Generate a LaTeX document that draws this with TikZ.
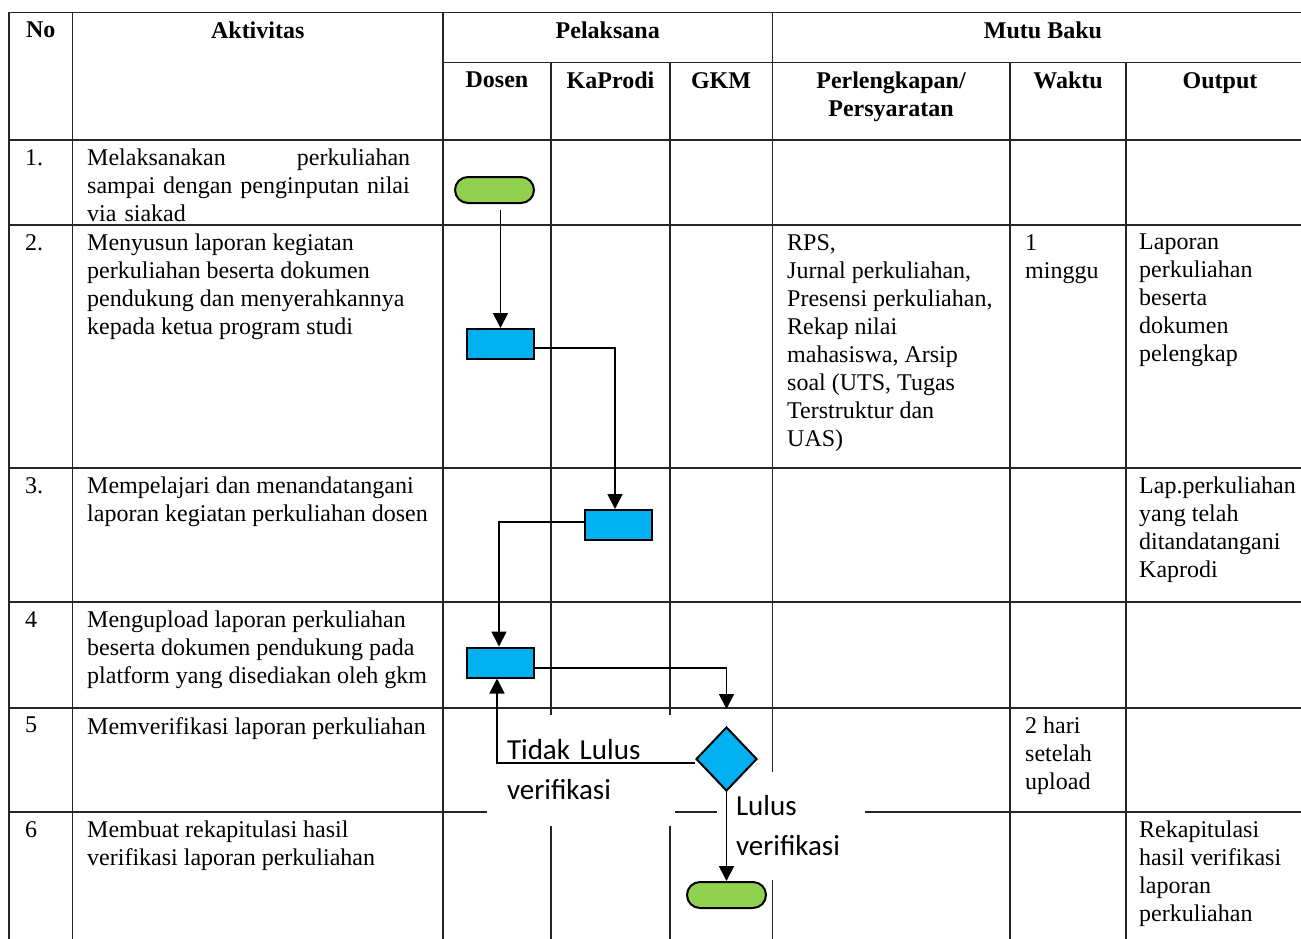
\documentclass[tikz,border=0pt]{standalone}
\usepackage{fontspec}
\setmainfont{Liberation Serif}
\newfontfamily\calibri{Carlito}
\usepackage{tikz}
\usetikzlibrary{arrows.meta, shapes.geometric, positioning}
\definecolor{flowgreen}{HTML}{92D050}
\definecolor{flowblue}{HTML}{00B0F0}
\tikzset{
  >={Triangle[length=15pt,width=15pt]},  % ujung panah segitiga
  % Garis tabel
  tableline/.style={line width=1.6pt,black!85,line cap=rect},
  % Teks sel tabel
  cell/.style={anchor=north west,inner sep=0pt,align=left,font=\fontsize{24}{28}\selectfont},
  head/.style={anchor=north,inner sep=0pt,align=center,font=\bfseries\fontsize{24}{28}\selectfont},
  % Simbol flowchart
  terminal/.style={draw,line width=2pt,fill=flowgreen,rounded corners=13pt,minimum width=79pt,minimum height=26pt,inner sep=0pt},
  process/.style={draw,line width=2pt,fill=flowblue,minimum width=67pt,minimum height=30pt,inner sep=0pt},
  decision/.style={draw,line width=2pt,fill=flowblue,diamond,minimum width=61pt,minimum height=64pt,inner sep=0pt},
  flow/.style={->,line width=1.8pt},
  % Label keputusan (kotak teks putih)
  lbl/.style={fill=white,inner ysep=0pt,align=left,font=\calibri\fontsize{29}{40}\selectfont}
}
\begin{document}
\begin{tikzpicture}[x=1pt,y=-1pt]
        \useasboundingbox (0,0) rectangle (1301,938);
        % Garis horizontal
        \draw[tableline](9,12.5)--(1301,12.5);
        \draw[tableline](443,62.5)--(1301,62.5);
        \foreach \y in {140,225,468,602,708,812}
          \draw[tableline](9,\y)--(1301,\y);
        % Garis vertikal
        \foreach \x in {9,72.5,443,772.5}
          \draw[tableline](\x,12.5)--(\x,938);
        \foreach \x in {551,670,1010,1126}
          \draw[tableline](\x,62.5)--(\x,938);
        % Kepala tabel
        \node[head] (hno) at (40.75,22) {No};
        \node[head] (hakt) at (257.75,22) {Aktivitas};
        \node[head] (hpel) at (607.75,22) {Pelaksana};
        \node[head] (hmutu) at (1043,22) {Mutu Baku};
        \node[head] (hdosen) at (497,72) {Dosen};
        \node[head] (hkaprodi) at (610.5,72) {KaProdi};
        \node[head] (hgkm) at (721,72) {GKM};
        \node[head] (hperl) at (891,72) {Perlengkapan/\\Persyaratan};
        \node[head] (hwaktu) at (1068,72) {Waktu};
        \node[head] (houtput) at (1220,72) {Output};
        % Baris 1
        \node[cell] (n1) at (25,149) {1.};
        \node[cell,text width=323pt] (a1) at (87,149)
          {Melaksanakan\hfill perkuliahan\\sampai dengan penginputan nilai\\via siakad};
        % Baris 2
        \node[cell] (n2) at (25,234) {2.};
        \node[cell] (a2) at (87,234)
          {Menyusun laporan kegiatan\\perkuliahan beserta dokumen\\pendukung dan menyerahkannya\\kepada ketua program studi};
        \node[cell] (p2) at (787,234)
          {RPS,\\Jurnal perkuliahan,\\Presensi perkuliahan,\\Rekap nilai\\mahasiswa, Arsip\\soal (UTS, Tugas\\Terstruktur dan\\UAS)};
        \node[cell] (w2) at (1025,234) {1\\minggu};
        \node[cell] (o2) at (1139,234) {Laporan\\perkuliahan\\beserta\\dokumen\\pelengkap};
        % Baris 3
        \node[cell] (n3) at (25,477) {3.};
        \node[cell] (a3) at (87,477)
          {Mempelajari dan menandatangani\\laporan kegiatan perkuliahan dosen};
        \node[cell] (o3) at (1139,477) {Lap.perkuliahan\\yang telah\\ditandatangani\\Kaprodi};
        % Baris 4
        \node[cell] (n4) at (25,611) {4};
        \node[cell] (a4) at (87,611)
          {Mengupload laporan perkuliahan\\beserta dokumen pendukung pada\\platform yang disediakan oleh gkm};
        % Baris 5
        \node[cell] (n5) at (25,717) {5};
        \node[cell] (a5) at (87,717) {Memverifikasi laporan perkuliahan};
        \node[cell] (w5) at (1025,717) {2 hari\\setelah\\upload};
        % Baris 6
        \node[cell] (n6) at (25,821) {6};
        \node[cell] (a6) at (87,821) {Membuat rekapitulasi hasil\\verifikasi laporan perkuliahan};
        \node[cell] (o6) at (1139,821) {Rekapitulasi\\hasil verifikasi\\laporan\\perkuliahan};
        % Label keputusan
        \node[lbl,text width=148pt,inner xsep=20pt,minimum height=111pt] (tidak) at (581,770) {Tidak Lulus\\verifikasi};
        \node[lbl,text width=110pt,inner xsep=19pt,minimum height=108pt] (lulus) at (791,826) {Lulus\\verifikasi};
        % Simbol flowchart
        \node[terminal] (start) at (494.5,190) {};
        \node[process] (r1) at (500.5,344) {};
        \node[process] (r2) at (618.5,525) {};
        \node[process] (r3) at (500.5,662.5) {};
        \node[decision] (dia) at (726.5,759) {};
        \node[terminal] (finish) at (726.5,895) {};
        % Alur
        \draw[flow,shorten <=6pt](start.south -| r1.north)--(r1.north);
        \draw[flow]([yshift=-4pt]r1.east)-|([xshift=-3.5pt]r2.north);
        \draw[flow]([yshift=3pt]r2.west)-|([xshift=-1.5pt]r3.north);
        \draw[flow,shorten >=17pt]([yshift=-5.5pt]r3.east)-|(dia.north);
        \draw[flow]([yshift=-4pt]dia.west)-|([xshift=-3.5pt]r3.south);
        \draw[flow](dia.south)--(finish.north);
      \end{tikzpicture}
\end{document}
